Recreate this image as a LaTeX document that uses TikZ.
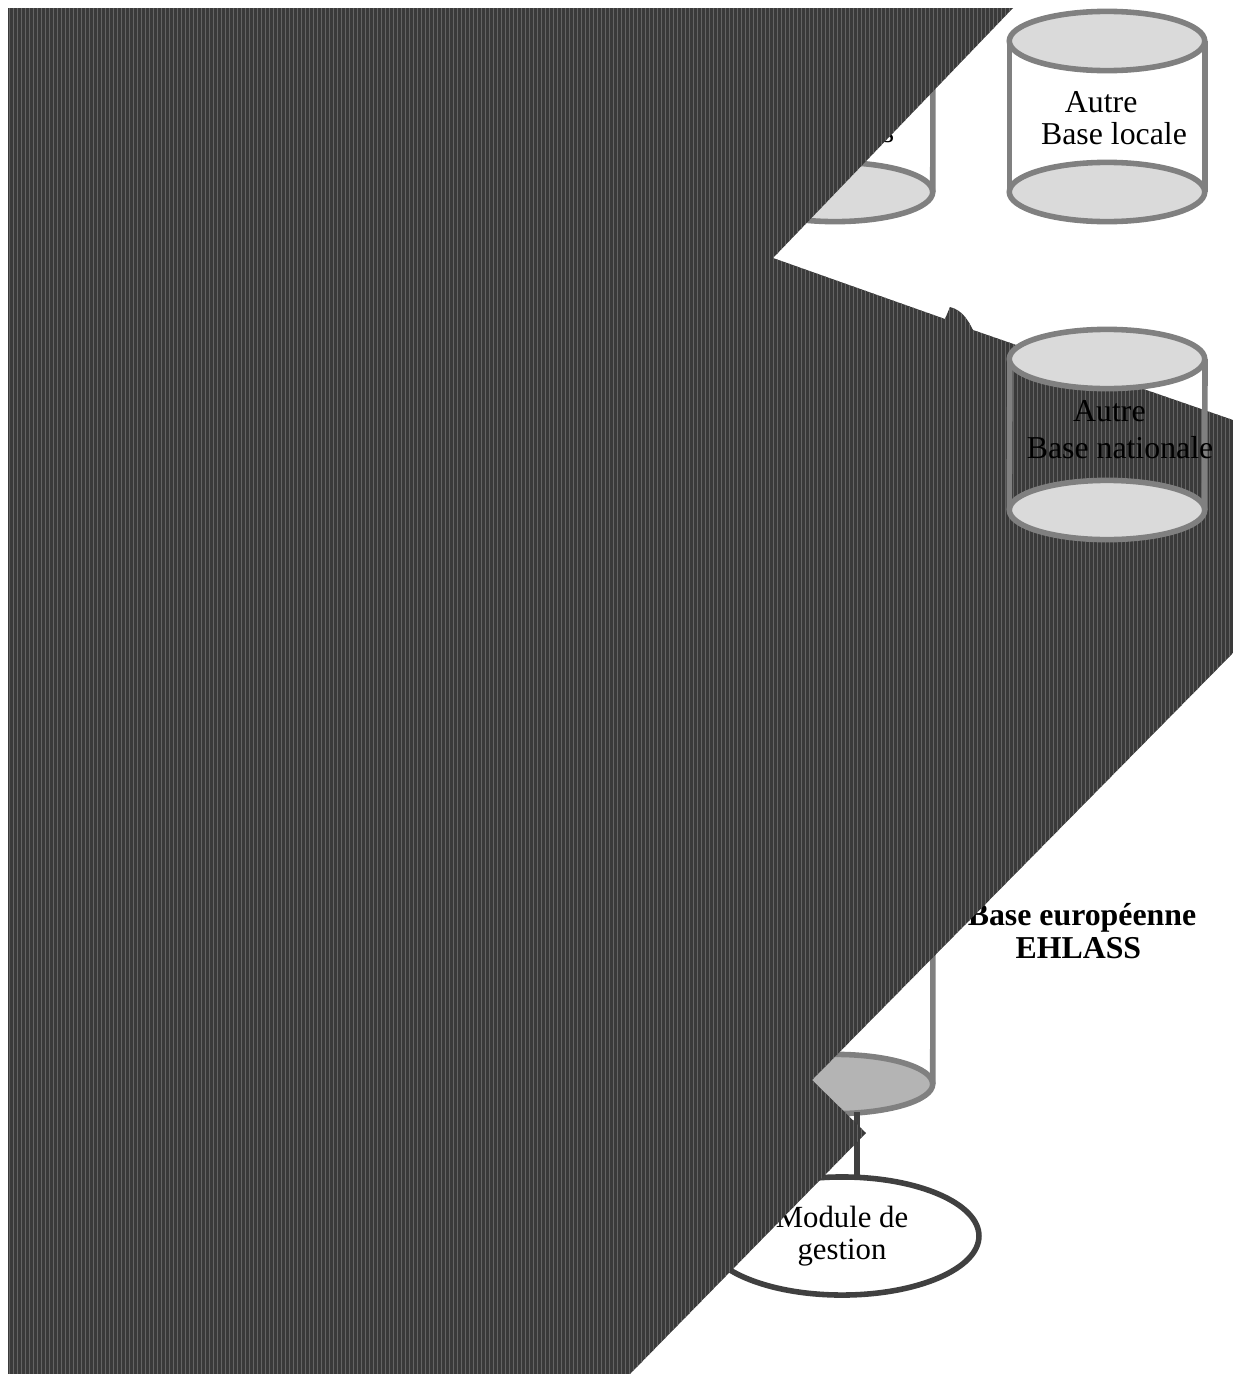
\documentclass[tikz,border=0pt]{standalone}
\usepackage{fontspec}
\setmainfont{Liberation Serif}
\usetikzlibrary{shapes.geometric}
\definecolor{coverdark}{HTML}{3A3A3A}
\definecolor{coverline}{HTML}{646464}
\definecolor{baserim}{HTML}{808080}
\definecolor{basefill}{HTML}{DADADA}
\definecolor{eurofill}{HTML}{B4B4B4}
\definecolor{linkdark}{HTML}{404040}
\tikzset{
  baseend/.style={draw=baserim, fill=basefill, line width=4.2pt, shape=ellipse, outer sep=0pt,
    minimum width=5.18cm, minimum height=1.57cm, inner sep=0pt},
  baseside/.style={draw=baserim, line width=4.2pt},
  baselabel/.style={font=\fontsize{24}{24.4}\selectfont, align=left, inner sep=0pt},
}

\begin{document}
\begin{tikzpicture}[x=0.0265cm, y=-0.0265cm]
  \useasboundingbox (0,0) rectangle (1233,1374);

  \node[baseend] (hidbot) at (835,192) {};
  \coordinate (hidside) at (933,60);
  \draw[baseside] (hidside) -- (hidbot.east);
  \node[baselabel] (hidtext) at (888,135) {s};

  \node[baseend] (locbot) at (1107,192) {};
  \node[baseend] (loctop) at (1107,41) {};
  \draw[baseside] (loctop.west) -- (locbot.west);
  \draw[baseside] (loctop.east) -- (locbot.east);
  \node[baselabel] (loctext) at (1114,118) {\hspace*{18pt}Autre\\Base locale};

  \node[baseend, fill=eurofill] (eurobot) at (835,1084) {};
  \coordinate (euroside) at (933,900);
  \draw[baseside] (euroside) -- (eurobot.east);
  \node[baselabel, font=\fontsize{24}{24.4}\selectfont\bfseries, align=left] (eurotext) at (1082,931)
    {Base européenne\\\hspace*{36pt}EHLASS};

  \node[draw=linkdark, fill=white, line width=4.2pt, shape=ellipse, outer sep=0pt, font=\fontsize{23.2}{24}\selectfont,
    align=center, minimum width=7.26cm, minimum height=3.13cm, inner sep=0pt] (module) at (842,1236)
    {Module de\\gestion};
  \coordinate (linktop) at (857,1112);
  \draw[linkdark, line width=4.2pt] (linktop) -- (linktop |- module.north);

  \begin{scope}
    \clip (8,8) -- (1013,8) -- (773,258) -- (945,319) -- (950,307)
      .. controls (962,310) and (968,320) .. (973,330) -- (1233,420) -- (1233,653)
      -- (812,1080) -- (866,1133) -- (630,1374) -- (8,1374) -- cycle;
    \fill[coverdark] (0,0) rectangle (1233,1374);
    \foreach \s in {9.5, 13.5, ..., 1233} {
      \draw[coverline, line width=0.75pt] (\s,0) -- (\s,1374);
    }
  \end{scope}

  \node[baseend] (natbot) at (1107,510) {};
  \draw[baseside] (1010,359) coordinate (natleft) -- (natbot.west);
  \draw[baseside] (1205,359) coordinate (natright) -- (natbot.east);
  \node[baseend] (nattop) at (1107,359) {};
  \node[baselabel] (nattext) at (1120,430) {\hspace*{35pt}Autre\\[3.5pt]Base nationale};
\end{tikzpicture}
\end{document}
